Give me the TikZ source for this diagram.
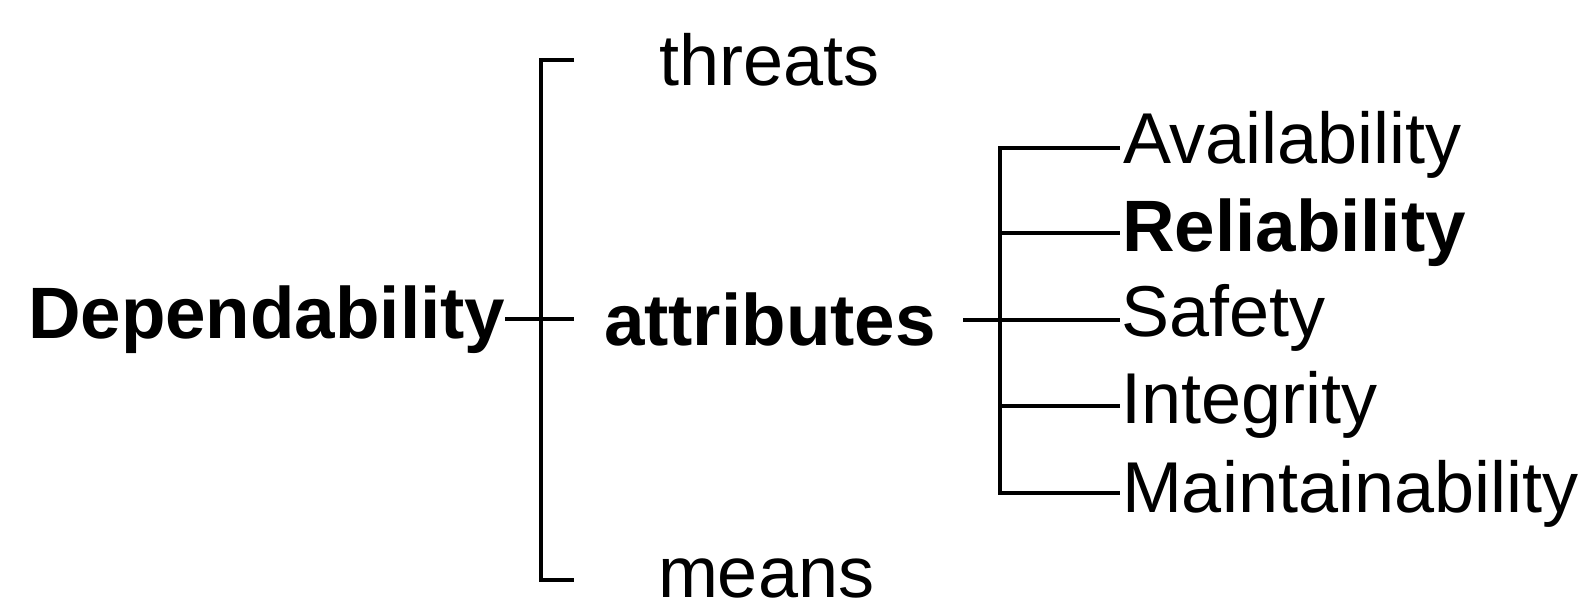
\documentclass[tikz,border=0pt]{standalone}
\usepackage{fontspec}
\setmainfont{Liberation Sans}
\begin{document}
\begin{tikzpicture}[x=1pt,y=-1pt,
  lbl/.style={anchor=base west,inner sep=0pt,outer sep=0pt,font=\fontsize{72}{86}\selectfont},
  blbl/.style={lbl,font=\fontsize{72.8}{86}\selectfont\bfseries},
  conn/.style={line width=3.3pt,line join=miter,line cap=butt}]
\useasboundingbox (0,0) rectangle (1582,612);
% text nodes
\node[blbl] (dep) at (28,338) {Dependability};
\node[lbl] (threats) at (659,86) {threats};
\node[blbl] (attr) at (604,345) {attributes};
\node[lbl] (means) at (658,597) {means};
\node[lbl] (avail) at (1123,164) {Availability};
\node[blbl] (rel) at (1122,252) {Reliability};
\node[lbl] (saf) at (1121,337) {Safety};
\node[lbl] (integ) at (1121,423) {Integrity};
\node[lbl] (maint) at (1122,512) {Maintainability};
% left bracket
\coordinate (depend) at (505,319);
\coordinate (ltop) at (574,60);
\coordinate (lmid) at (574,319);
\coordinate (lbot) at (574,580);
\coordinate (lspine) at (541,0);
\draw[conn] (ltop) -- (lspine |- ltop) -- (lspine |- lbot) -- (lbot);
\draw[conn] (depend) -- (lmid);
% right bracket
\coordinate (attrend) at (963,320);
\coordinate (rspine) at (1000,0);
\coordinate (ravail) at (1120,148);
\coordinate (rrel) at (1120,233);
\coordinate (rsaf) at (1120,320);
\coordinate (rinteg) at (1120,406);
\coordinate (rmaint) at (1120,493);
\draw[conn] (ravail) -- (rspine |- ravail) -- (rspine |- rmaint) -- (rmaint);
\draw[conn] (rspine |- rrel) -- (rrel);
\draw[conn] (attrend) -- (rsaf);
\draw[conn] (rspine |- rinteg) -- (rinteg);
\end{tikzpicture}
\end{document}
